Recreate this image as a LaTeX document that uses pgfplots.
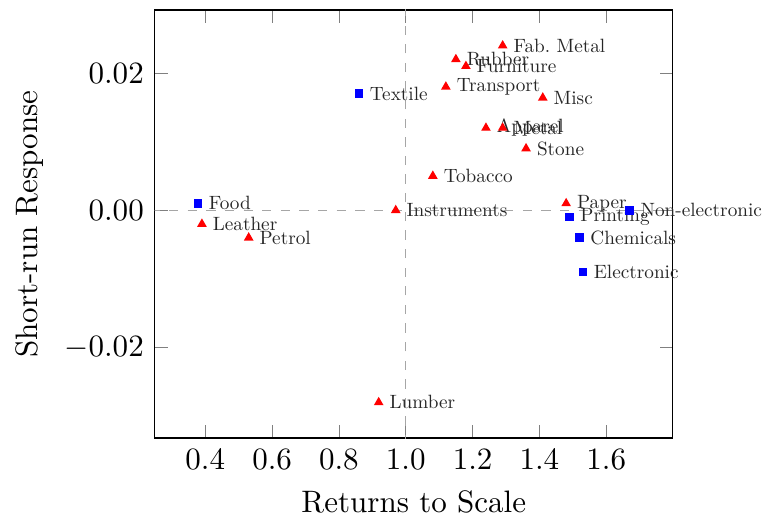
\documentclass[border=0pt]{standalone}
\usepackage{pgfplots}
\pgfplotsset{compat=1.18}
\begin{document}
\begin{tikzpicture}
\begin{axis}[
  scale only axis,
  width=167pt, height=138pt,
  xlabel={Returns to Scale},
  ylabel={Short-run Response},
  xtick={0.4,0.6,0.8,1.0,1.2,1.4,1.6},
  ytick={-0.02,0,0.02},
  xticklabel style={/pgf/number format/fixed,/pgf/number format/precision=1,/pgf/number format/fixed zerofill},
  yticklabel style={/pgf/number format/fixed,/pgf/number format/precision=2,/pgf/number format/fixed zerofill},
  scaled y ticks=false,
  nodes near coords,
  point meta=explicit symbolic,
  nodes near coords style={anchor=west, font=\fontsize{10}{12}\selectfont, scale=0.62, text=black!85, inner sep=0pt, xshift=5.5pt},
]
\draw[gray!70, dashed] (axis cs:1,-1) -- (axis cs:1,1);
\draw[gray!70, dashed] (axis cs:-5,0) -- (axis cs:5,0);
\addplot[only marks, mark=triangle*, red, mark size=1.4pt] coordinates {
(0.39,-0.002) [Leather]
(0.53,-0.004) [Petrol]
(0.919,-0.028) [Lumber]
(0.97,0.0) [Instruments]
(1.081,0.005) [Tobacco]
(1.12,0.018) [Transport]
(1.15,0.022) [Rubber]
(1.18,0.021) [Furniture]
(1.29,0.024) [Fab.~Metal]
(1.24,0.012) [Apparel]
(1.29,0.012) [Metal]
(1.41,0.0164) [Misc]
(1.36,0.009) [Stone]
(1.48,0.001) [Paper]
};
\addplot[only marks, mark=square*, blue, mark size=1.2pt] coordinates {
(0.378,0.001) [Food]
(0.86,0.017) [Textile]
(1.49,-0.001) [Printing]
(1.67,0.0) [Non-electronic]
(1.52,-0.004) [Chemicals]
(1.53,-0.009) [Electronic]
};
\end{axis}
\path ([yshift=3.2pt]current axis.north);
\path ([xshift=-1.6pt]current axis.outer west);
\path ([yshift=-2pt]current axis.outer south);
\path ([xshift=31pt]current axis.east);
\end{tikzpicture}
\end{document}
